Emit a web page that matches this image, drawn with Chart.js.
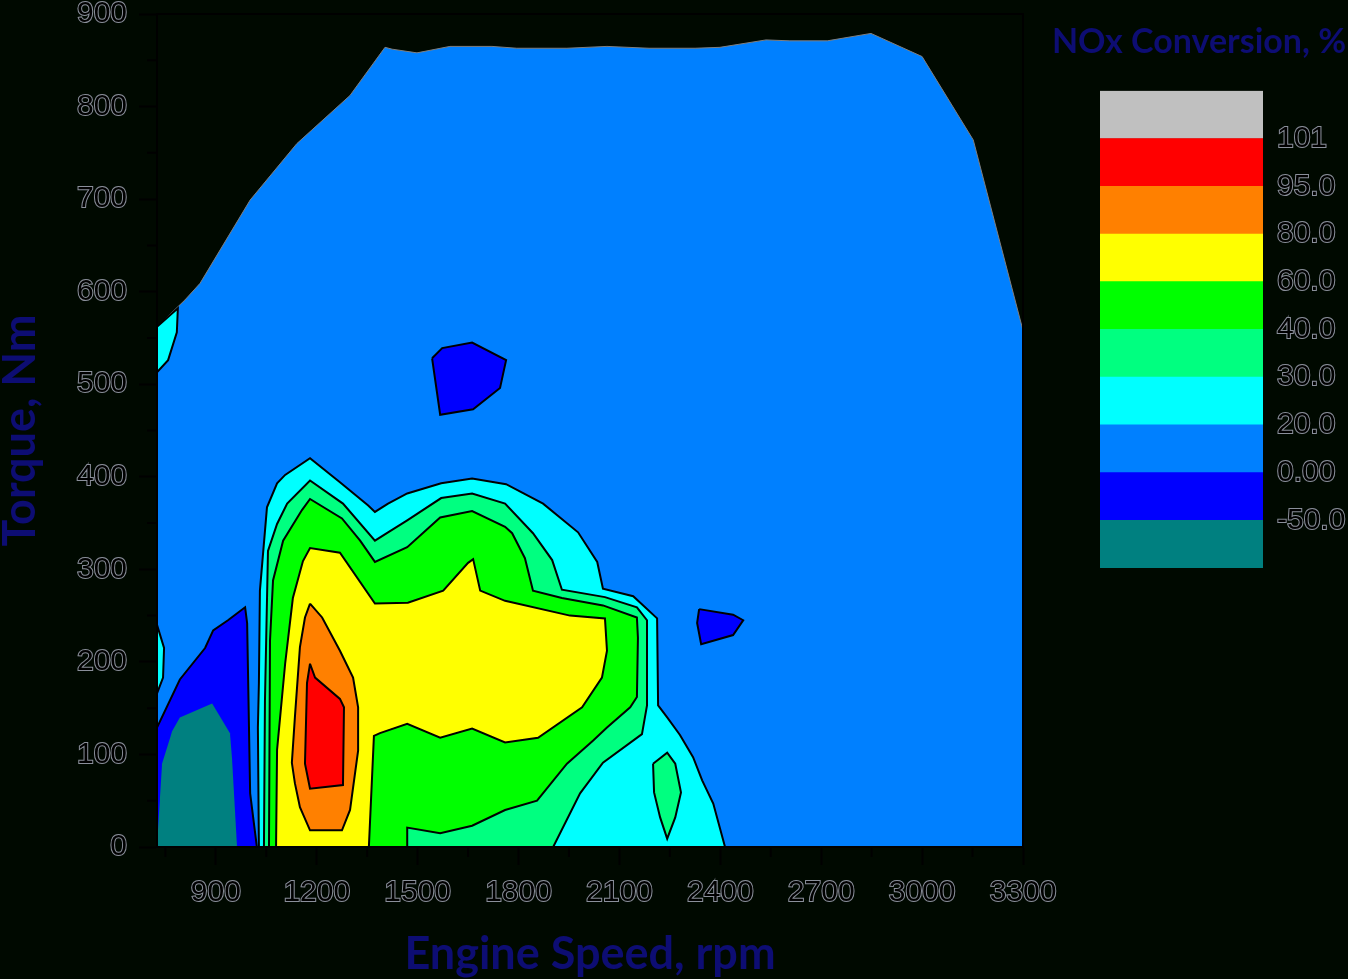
<!DOCTYPE html>
<html>
<head>
<meta charset="utf-8">
<script src="https://cdn.jsdelivr.net/npm/chart.js@4"></script>
<style>
html, body { margin: 0; padding: 0; background: #000900; }
#wrap { position: relative; width: 1348px; height: 979px; }
#contour { position: absolute; left: 0; top: 0; }
#scale { position: absolute; left: 1050px; top: 0; }
</style>
</head>
<body>
<div id="wrap">
<canvas id="contour" width="1348" height="979"></canvas>
<canvas id="scale" width="298" height="600"></canvas>
</div>
<script>
// axis ticks
const xTicks = [900, 1200, 1500, 1800, 2100, 2400, 2700, 3000, 3300];
const xMinor = [750, 1050, 1350, 1650, 1950, 2250, 2550, 2850, 3150];
const yMinor = [50, 150, 250, 350, 450, 550, 650, 750, 850];

// contour levels, bottom to top of the colour bar
const levelLabels = ['-50.0', '0.00', '20.0', '30.0', '40.0', '60.0', '80.0', '95.0', '101'];
const levelColors = ['#008080', '#0000ff', '#0080ff', '#00ffff', '#00ff80', '#00ff00', '#ffff00', '#ff8000', '#ff0000', '#c0c0c0'];

// contour polygons, [rpm, Nm]
const envelope = [[725,0],[725,562],[808,591],[853,609],[1002,699],[1141,760],[1299,812],[1403,864],[1424,862],[1498,858],[1596,865],[1721,865],[1795,863],[1944,863],[2063,865],[2188,863],[2325,863],[2399,864],[2536,872],[2607,871],[2718,871],[2848,879],[3000,854],[3152,764],[3300,558],[3300,0]];
const cyanTopLeft = [[725,562],[787,582],[784,556],[758,526],[725,513]];
const cyanLeft = [[725,240],[746,215],[743,183],[725,166]];
const blueLeft = [[725,129],[793,181],[868,215],[892,234],[936,245],[987,259],[993,242],[1002,58],[1022,0],[725,0]];
const tealLeft = [[725,0],[740,90],[770,125],[793,140],[889,155],[942,123],[948,96],[963,0]];
const cyanMain = [[1028,0],[1025,129],[1028,177],[1031,277],[1052,367],[1082,393],[1106,402],[1180,420],[1269,394],[1353,369],[1373,362],[1412,371],[1469,382],[1570,393],[1662,398],[1763,392],[1873,371],[1977,340],[2034,308],[2051,279],[2141,271],[2212,247],[2215,153],[2242,140],[2280,121],[2319,97],[2346,72],[2379,47],[2414,0]];
const springMain = [[1043,0],[1046,158],[1055,320],[1082,349],[1112,371],[1180,396],[1278,371],[1373,331],[1412,340],[1469,353],[1570,377],[1662,382],[1760,371],[1843,339],[1900,310],[1929,278],[2057,270],[2152,259],[2182,245],[2182,153],[2167,122],[2051,91],[1983,58],[1903,0]];
const greenMain = [[1058,0],[1061,223],[1070,288],[1100,331],[1156,364],[1180,376],[1275,355],[1329,331],[1373,308],[1469,324],[1567,356],[1662,363],[1760,346],[1781,339],[1819,312],[1843,277],[1929,269],[2051,261],[2152,248],[2155,226],[2152,162],[2132,151],[2063,129],[2022,115],[1944,90],[1855,50],[1760,40],[1662,23],[1567,15],[1469,21],[1469,0]];
const yellowMain = [[1079,0],[1082,105],[1106,198],[1129,269],[1159,309],[1180,323],[1269,318],[1373,263],[1471,264],[1576,277],[1650,307],[1665,311],[1686,277],[1760,266],[1953,250],[2057,247],[2063,212],[2048,183],[1989,151],[1858,118],[1760,113],[1662,128],[1567,118],[1469,133],[1388,123],[1370,120],[1355,0]];
const orangeCore = [[1180,263],[1216,248],[1269,212],[1308,183],[1323,151],[1323,104],[1299,40],[1275,18],[1180,18],[1150,43],[1135,69],[1126,91],[1135,140],[1150,216],[1165,248]];
const redCore = [[1180,198],[1195,183],[1269,160],[1281,151],[1278,67],[1180,63],[1165,90],[1171,177]];
const springIsland = [[2200,90],[2242,102],[2266,90],[2283,59],[2266,32],[2242,9],[2221,32],[2203,59]];
const blueUpper = [[1543,528],[1573,539],[1662,545],[1763,526],[1745,496],[1665,473],[1567,467]];
const blueRight = [[2337,257],[2438,251],[2468,245],[2438,229],[2343,219],[2331,242]];

const navy = '#0d0d73';
const outline = '#8a8f9a';
const tickFont = { family: '"Liberation Sans", Arial, sans-serif', size: 30 };
const titleFont = { family: 'Lato, "Open Sans", sans-serif', size: 45, weight: 'bold' };

// painter order: first drawn first
const regions = [
    [envelope, levelColors[2], '#7f7f7f'],
    [cyanTopLeft, levelColors[3], '#000'],
    [cyanLeft, levelColors[3], '#000'],
    [blueLeft, levelColors[1], '#000'],
    [tealLeft, levelColors[0], null],
    [cyanMain, levelColors[3], '#000'],
    [springMain, levelColors[4], '#000'],
    [greenMain, levelColors[5], '#000'],
    [yellowMain, levelColors[6], '#000'],
    [orangeCore, levelColors[7], '#000'],
    [redCore, levelColors[8], '#000'],
    [springIsland, levelColors[4], '#000'],
    [blueUpper, levelColors[1], '#000'],
    [blueRight, levelColors[1], '#000']
];

const minorTicks = {
    id: 'minorTicks',
    afterDraw(chart) {
        const { ctx, scales: { x, y } } = chart;
        ctx.save();
        ctx.strokeStyle = '#000';
        ctx.lineWidth = 2;
        ctx.beginPath();
        xMinor.forEach(v => {
            const px = x.getPixelForValue(v);
            ctx.moveTo(px, x.top);
            ctx.lineTo(px, x.top + 10);
        });
        yMinor.forEach(v => {
            const py = y.getPixelForValue(v);
            ctx.moveTo(y.right, py);
            ctx.lineTo(y.right - 10, py);
        });
        ctx.stroke();
        ctx.restore();
    }
};

const noPad = s => { s.paddingTop = 0; s.paddingBottom = 0; s.paddingLeft = 0; s.paddingRight = 0; };

const frameAxis = (pos, min, max) => ({
    type: 'linear', position: pos, min: min, max: max,
    afterFit: s => { if (s.isHorizontal()) s.height = 0; else s.width = 0; noPad(s); },
    ticks: { display: false },
    grid: { display: false, drawTicks: false },
    border: { display: true, color: '#000', width: 2, z: 1 }
});

new Chart(document.getElementById('contour'), {
    type: 'line',
    data: {
        datasets: regions.map(([pts, color, edge], i) => ({
            data: pts.concat([pts[0]]).map(([x, y]) => ({ x: x, y: y })),
            backgroundColor: color,
            borderColor: edge || color,
            borderWidth: edge ? (i === 0 ? 1 : 2) : 0,
            fill: 'shape',
            pointRadius: 0,
            tension: 0,
            order: regions.length - i
        }))
    },
    options: {
        responsive: false,
        animation: false,
        events: [],
        layout: { padding: { top: 14, right: 325, left: 0, bottom: 0 } },
        plugins: { legend: { display: false }, tooltip: { enabled: false } },
        scales: {
            x: {
                type: 'linear', min: 725, max: 3300, position: 'bottom',
                afterBuildTicks: s => { s.ticks = xTicks.map(v => ({ value: v })); },
                afterFit: s => { s.height = 132; noPad(s); },
                grid: { drawOnChartArea: false, tickLength: 18, tickWidth: 2, tickColor: '#000', color: '#000' },
                border: { display: true, color: '#000', width: 2, z: 1 },
                ticks: { font: tickFont, color: '#000', textStrokeColor: outline, textStrokeWidth: 2, padding: 10, maxRotation: 0, autoSkip: false, callback: v => String(v) },
                title: { display: true, text: 'Engine Speed, rpm', color: navy, font: titleFont, padding: { top: 0, bottom: -2 } }
            },
            y: {
                type: 'linear', min: 0, max: 900, position: 'left',
                afterFit: s => { s.width = 157; noPad(s); },
                grid: { drawOnChartArea: false, tickLength: 18, tickWidth: 2, tickColor: '#000', color: '#000' },
                border: { display: true, color: '#000', width: 2, z: 1 },
                ticks: { stepSize: 100, font: tickFont, color: '#000', textStrokeColor: outline, textStrokeWidth: 2, padding: 12 },
                title: { display: true, text: 'Torque, Nm', color: navy, font: titleFont, padding: { top: -7, bottom: 0 } }
            },
            x2: frameAxis('top', 725, 3300),
            y2: frameAxis('right', 0, 900)
        }
    },
    plugins: [minorTicks]
});

// colour bar
new Chart(document.getElementById('scale'), {
    type: 'bar',
    data: {
        labels: [''],
        datasets: levelColors.map(c => ({
            data: [1], backgroundColor: c, borderWidth: 0,
            barPercentage: 1, categoryPercentage: 1, stack: 'bar'
        }))
    },
    options: {
        responsive: false,
        animation: false,
        events: [],
        layout: { padding: { top: 0, bottom: 32, left: 0, right: 0 } },
        plugins: {
            legend: { display: false },
            tooltip: { enabled: false },
            title: {
                display: true, text: 'NOx Conversion, %', color: navy,
                font: { family: 'Lato, "Open Sans", sans-serif', size: 34, weight: 'bold' },
                padding: { top: 22, bottom: 28 }
            }
        },
        scales: {
            x: { display: false, stacked: true },
            yl: {
                type: 'linear', position: 'left', display: true,
                afterFit: s => { s.width = 50; noPad(s); },
                ticks: { display: false }, grid: { display: false, drawTicks: false }, border: { display: false }
            },
            y: {
                type: 'linear', position: 'right', stacked: true, min: 0, max: 10,
                afterFit: s => { s.width = 85; noPad(s); },
                grid: { display: false, drawTicks: false },
                border: { display: false },
                ticks: {
                    stepSize: 1, padding: 14, font: tickFont, color: '#000',
                    textStrokeColor: outline, textStrokeWidth: 2,
                    callback: v => levelLabels[v - 1] || ''
                }
            }
        }
    }
});
</script>
</body>
</html>
